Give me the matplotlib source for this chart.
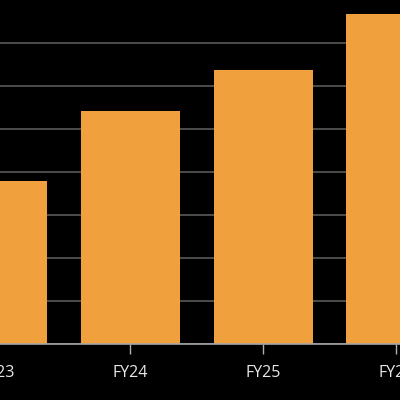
import matplotlib
matplotlib.use("Agg")
import matplotlib.pyplot as plt

categories = ["FY23", "FY24", "FY25", "FY26"]
values = [3.79, 5.41, 6.36, 7.66]

plt.rcParams['font.family'] = ['Open Sans', 'DejaVu Sans']

fig = plt.figure(figsize=(4, 4), dpi=100, facecolor="black")
# the reference is a crop, so the axes run past the figure edges
ax = fig.add_axes([-0.172, 0.139, 1.3275, 0.862])
ax.set_facecolor("black")

x = range(len(categories))
ax.bar(x, values, width=0.745, color="#F0A03C", zorder=2)

ax.set_xlim(-0.5, 3.5)
ax.set_ylim(0, 8)
ax.set_yticks(range(0, 8))
ax.yaxis.grid(True, color="#5a5a5a", linewidth=1.2, zorder=0)
ax.tick_params(axis="y", left=False, labelleft=False)

ax.set_xticks(list(x))
ax.set_xticklabels(categories)
ax.tick_params(axis="x", colors="#b0b0b0", length=7, width=1, labelsize=11.5,
               labelcolor="#e8e8e8", pad=8)

for side in ["top", "right", "left"]:
    ax.spines[side].set_visible(False)
ax.spines["bottom"].set_color("#a8a8a8")
ax.spines["bottom"].set_linewidth(1.2)

fig.savefig("out.png", dpi=100, facecolor="black")
